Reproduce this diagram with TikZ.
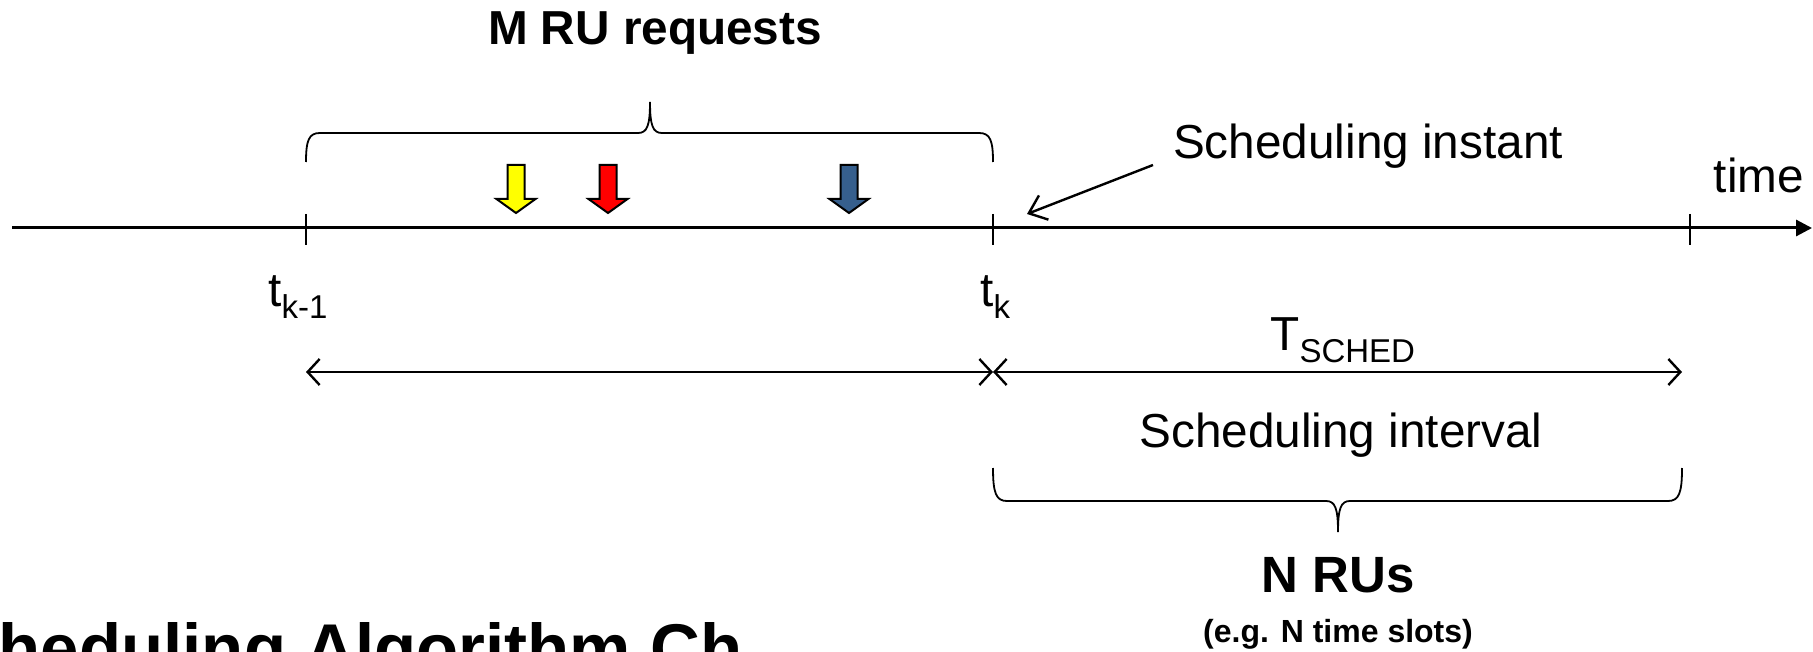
\documentclass[tikz,border=0pt]{standalone}
\usepackage{fontspec}
\setmainfont{Liberation Sans}
\usetikzlibrary{arrows.meta}
\definecolor{reqblue}{RGB}{54,95,141}
\definecolor{reqyellow}{RGB}{255,255,0}
\definecolor{reqred}{RGB}{255,0,0}
\newcommand\fmain{\fontsize{23.85}{28}\selectfont}
\newcommand\fsub{\fontsize{16.5}{20}\selectfont}
\begin{document}
\begin{tikzpicture}[x=0.5pt,y=-0.5pt,
  lbl/.style={inner sep=0pt, anchor=base, font=\fmain},
  axisline/.style={line width=1.5pt, -{Triangle[length=8pt,width=8pt]}},
  tickline/.style={line width=1pt},
  dblarrow/.style={line width=1.2pt, {Straight Barb[length=6pt,width=13pt]}-{Straight Barb[length=6pt,width=13pt]}},
  ptrarrow/.style={line width=1.2pt, -{Straight Barb[length=8pt,width=13pt]}},
  bracepath/.style={line width=0.9pt},
  pics/reqarrow/.style={code={
    \draw[line width=1pt, fill=#1, line join=miter]
      (-8.5,0) -- (8.5,0) -- (8.5,34) -- (19.5,34) -- (0,48) -- (-19.5,34) -- (-8.5,34) -- cycle;}}
]
\useasboundingbox (0,0) rectangle (1813,652);
\clip (0,0) rectangle (1813,652);

% title
\node[lbl, font=\fmain\bfseries] (mru) at (655,45) {M RU requests};

% top brace
\coordinate (bl) at (306,162);
\coordinate (br) at (993,162);
\draw[bracepath] (bl) .. controls (306,140) and (309,133) .. (320,133) -- (638,133)
  .. controls (647,133) and (650,126) .. (650,102)
  .. controls (650,126) and (653,133) .. (662,133) -- (979,133)
  .. controls (990,133) and (993,140) .. (br);

% request arrows
\pic (ay) at (516,165) {reqarrow=reqyellow};
\pic (ar) at (608,165) {reqarrow=reqred};
\pic (ab) at (849,165) {reqarrow=reqblue};

% time axis
\coordinate (axL) at (12,228);
\coordinate (axR) at (1812,228);
\draw[axisline] (axL) -- (axR);
\coordinate (tA) at (306,228);
\coordinate (tB) at (993,228);
\coordinate (tC) at (1690,228);
\draw[tickline] (tA) ++(0,-14) -- ++(0,31);
\draw[tickline] (tB) ++(0,-14) -- ++(0,31);
\draw[tickline] (tC) ++(0,-14) -- ++(0,31);

\node[lbl] (time) at (1759,192) {time};
\node[lbl] (si) at (1368,159) {Scheduling instant};
\coordinate (pS) at (1153,165);
\coordinate (pE) at (1027,214);
\draw[ptrarrow] (pS) -- (pE);

% tick labels
\node[lbl, anchor=base west] (tkm) at (268,306) {t\raisebox{-6pt}{\fsub k-1}};
\node[lbl, anchor=base west] (tk) at (980,306) {t\raisebox{-6pt}{\fsub k}};

% interval arrows
\coordinate (dA) at (306,372);
\coordinate (dB) at (993,372);
\coordinate (dC) at (1682,372);
\draw[dblarrow] (dA) -- (dB);
\draw[dblarrow] (dB) -- (dC);

\node[lbl, anchor=base west] (tsched) at (1270,350) {T\raisebox{-6pt}{\fsub SCHED}};
\node[lbl] (sint) at (1341,447) {Scheduling interval};

% bottom brace
\coordinate (cl) at (993,468);
\coordinate (cr) at (1682,468);
\draw[bracepath] (cl) .. controls (993,493) and (996,501) .. (1007,501) -- (1326,501)
  .. controls (1335,501) and (1338,508) .. (1338,532)
  .. controls (1338,508) and (1341,501) .. (1350,501) -- (1668,501)
  .. controls (1679,501) and (1682,493) .. (cr);

\node[lbl, font=\fontsize{25.5}{30}\selectfont\bfseries] (nru) at (1338,592) {N RUs};
\node[lbl, font=\fontsize{16}{19}\selectfont\bfseries] (eg) at (1338,642) {(e.g. N time slots)};

% heading cut off by the bottom and left edges
\node[lbl, anchor=base west, font=\fontsize{34.5}{40}\selectfont\bfseries] (alg) at (-86,672) {Scheduling Algorithm Ch};
\end{tikzpicture}
\end{document}
